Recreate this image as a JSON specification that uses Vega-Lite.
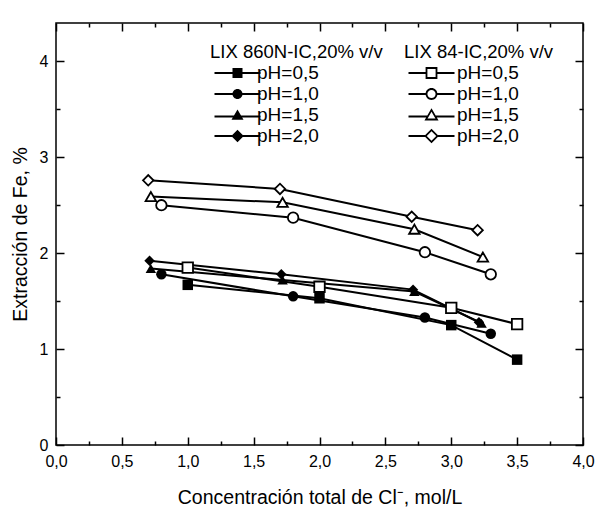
{
  "$schema": "https://vega.github.io/schema/vega-lite/v6.json",
  "autosize": {"type": "none"},
  "width": 527,
  "height": 422,
  "padding": {"left": 56, "top": 23, "right": 15, "bottom": 65},
  "background": "white",
  "config": {
    "font": "Liberation Sans",
    "view": {"stroke": "black", "strokeWidth": 1.5},
    "axis": {
      "domain": false, "grid": false, "tickColor": "black", "tickWidth": 1.5,
      "labelColor": "black", "labelFontSize": 16, "labelFlush": false, "labelOverlap": false,
      "titleColor": "black", "titleFontSize": 19.5, "titleFontWeight": "normal"
    },
    "legend": {
      "labelFontSize": 19, "titleFontSize": 18.5, "titleFontWeight": "normal",
      "labelColor": "black", "titleColor": "black", "symbolSize": 100,
      "rowPadding": 1, "titlePadding": 2, "orient": "none",
      "symbolOpacity": 1, "symbolStrokeWidth": 0, "symbolFillColor": "black"
    }
  },
  "data": {"values": [
    {"ext": "A", "pH": "pH=0,5", "c": 1.0, "e": 1.67},
    {"ext": "A", "pH": "pH=0,5", "c": 2.0, "e": 1.53},
    {"ext": "A", "pH": "pH=0,5", "c": 3.0, "e": 1.25},
    {"ext": "A", "pH": "pH=0,5", "c": 3.5, "e": 0.89},
    {"ext": "A", "pH": "pH=1,0", "c": 0.8, "e": 1.78},
    {"ext": "A", "pH": "pH=1,0", "c": 1.8, "e": 1.55},
    {"ext": "A", "pH": "pH=1,0", "c": 2.8, "e": 1.33},
    {"ext": "A", "pH": "pH=1,0", "c": 3.3, "e": 1.16},
    {"ext": "A", "pH": "pH=1,5", "c": 0.72, "e": 1.84},
    {"ext": "A", "pH": "pH=1,5", "c": 1.72, "e": 1.72},
    {"ext": "A", "pH": "pH=1,5", "c": 2.72, "e": 1.60},
    {"ext": "A", "pH": "pH=1,5", "c": 3.23, "e": 1.27},
    {"ext": "A", "pH": "pH=2,0", "c": 0.71, "e": 1.92},
    {"ext": "A", "pH": "pH=2,0", "c": 1.71, "e": 1.78},
    {"ext": "A", "pH": "pH=2,0", "c": 2.71, "e": 1.62},
    {"ext": "A", "pH": "pH=2,0", "c": 3.21, "e": 1.28},
    {"ext": "B", "pH": "pH=0,5", "c": 1.0, "e": 1.85},
    {"ext": "B", "pH": "pH=0,5", "c": 2.0, "e": 1.65},
    {"ext": "B", "pH": "pH=0,5", "c": 3.0, "e": 1.43},
    {"ext": "B", "pH": "pH=0,5", "c": 3.5, "e": 1.26},
    {"ext": "B", "pH": "pH=1,0", "c": 0.8, "e": 2.50},
    {"ext": "B", "pH": "pH=1,0", "c": 1.8, "e": 2.37},
    {"ext": "B", "pH": "pH=1,0", "c": 2.8, "e": 2.01},
    {"ext": "B", "pH": "pH=1,0", "c": 3.3, "e": 1.78},
    {"ext": "B", "pH": "pH=1,5", "c": 0.72, "e": 2.59},
    {"ext": "B", "pH": "pH=1,5", "c": 1.72, "e": 2.53},
    {"ext": "B", "pH": "pH=1,5", "c": 2.72, "e": 2.25},
    {"ext": "B", "pH": "pH=1,5", "c": 3.24, "e": 1.96},
    {"ext": "B", "pH": "pH=2,0", "c": 0.7, "e": 2.76},
    {"ext": "B", "pH": "pH=2,0", "c": 1.7, "e": 2.67},
    {"ext": "B", "pH": "pH=2,0", "c": 2.7, "e": 2.38},
    {"ext": "B", "pH": "pH=2,0", "c": 3.2, "e": 2.24}
  ]},
  "resolve": {"scale": {"shape": "independent"}, "axis": {"x": "independent", "y": "independent"}},
  "layer": [
    {
      "mark": {"type": "line", "color": "black", "strokeWidth": 2},
      "encoding": {
        "x": {"field": "c", "type": "quantitative", "scale": {"domain": [0, 4], "nice": false},
          "title": "Concentración total de Cl⁻, mol/L",
          "axis": {"orient": "bottom",
            "values": [0, 0.25, 0.5, 0.75, 1, 1.25, 1.5, 1.75, 2, 2.25, 2.5, 2.75, 3, 3.25, 3.5, 3.75, 4],
            "labelExpr": "(datum.value * 2) % 1 === 0 ? replace(format(datum.value, '.1f'), '.', ',') : ''",
            "tickSize": {"condition": {"test": "(datum.value * 2) % 1 === 0", "value": -8}, "value": -4},
            "labelPadding": 16, "titlePadding": 15}},
        "y": {"field": "e", "type": "quantitative", "scale": {"domain": [0, 4.4], "nice": false},
          "title": "Extracción de Fe, %",
          "axis": {"orient": "left",
            "values": [0, 0.5, 1, 1.5, 2, 2.5, 3, 3.5, 4],
            "labelExpr": "datum.value % 1 === 0 ? '' + datum.value : ''",
            "tickSize": {"condition": {"test": "datum.value % 1 === 0", "value": -8}, "value": -4},
            "labelPadding": 16, "titlePadding": 9}},
        "detail": [{"field": "ext"}, {"field": "pH"}],
        "order": {"field": "c", "type": "quantitative"}
      }
    },
    {
      "transform": [{"filter": "datum.ext === 'A'"}],
      "mark": {"type": "point", "filled": true, "color": "black", "size": 110, "opacity": 1},
      "encoding": {
        "x": {"field": "c", "type": "quantitative",
          "axis": {"orient": "top", "title": null, "labels": false,
            "values": [0, 0.25, 0.5, 0.75, 1, 1.25, 1.5, 1.75, 2, 2.25, 2.5, 2.75, 3, 3.25, 3.5, 3.75, 4],
            "tickSize": {"condition": {"test": "(datum.value * 2) % 1 === 0", "value": -8}, "value": -4}}},
        "y": {"field": "e", "type": "quantitative",
          "axis": {"orient": "right", "title": null, "labels": false,
            "values": [0, 0.5, 1, 1.5, 2, 2.5, 3, 3.5, 4],
            "tickSize": {"condition": {"test": "datum.value % 1 === 0", "value": -8}, "value": -4}}},
        "shape": {"field": "pH", "type": "nominal",
          "scale": {"domain": ["pH=0,5", "pH=1,0", "pH=1,5", "pH=2,0"], "range": ["square", "circle", "triangle-up", "diamond"]},
          "legend": null}
      }
    },
    {
      "transform": [{"filter": "datum.ext === 'B'"}],
      "mark": {"type": "point", "filled": false, "fill": "white", "stroke": "black", "strokeWidth": 1.8, "size": 110, "opacity": 1},
      "encoding": {
        "x": {"field": "c", "type": "quantitative", "axis": null},
        "y": {"field": "e", "type": "quantitative", "axis": null},
        "shape": {"field": "pH", "type": "nominal",
          "scale": {"domain": ["pH=0,5", "pH=1,0", "pH=1,5", "pH=2,0"], "range": ["square", "circle", "triangle-up", "diamond"]},
          "legend": null}
      }
    },
    {
      "transform": [{"filter": "datum.ext === 'A'"}],
      "mark": {"type": "point", "filled": true, "color": "black", "fill": "black", "strokeWidth": 0, "size": 0, "opacity": 1},
      "encoding": {
        "x": {"field": "c", "type": "quantitative", "axis": null},
        "y": {"field": "e", "type": "quantitative", "axis": null},
        "shape": {"field": "pH", "type": "nominal",
          "scale": {"domain": ["pH=0,5", "pH=1,0", "pH=1,5", "pH=2,0"],
            "range": [
              "M-1,-0.18H2.7V0.18H-1Z M4.5,-0.18H8.2V0.18H4.5Z M2.6,-1H4.6V1H2.6Z",
              "M-1,-0.18H2.7V0.18H-1Z M4.5,-0.18H8.2V0.18H4.5Z M2.6,0A1,1 0 1,1 4.6,0A1,1 0 1,1 2.6,0Z",
              "M-1,0.12H2.9V0.48H-1Z M4.3,0.12H8.2V0.48H4.3Z M3.6,-1.1L4.8,0.95H2.4Z",
              "M-1,-0.18H2.5V0.18H-1Z M4.7,-0.18H8.2V0.18H4.7Z M2.35,0L3.6,-1.25L4.85,0L3.6,1.25Z"
            ]},
          "legend": {"title": "LIX 860N-IC,20% v/v", "legendX": 154, "legendY": 20, "labelOffset": 28,
            "symbolFillColor": "black", "symbolStrokeWidth": 0, "symbolSize": 100}}
      }
    },
    {
      "transform": [{"filter": "datum.ext === 'B'"}],
      "mark": {"type": "point", "filled": true, "color": "black", "fill": "black", "strokeWidth": 0, "size": 0, "opacity": 1},
      "encoding": {
        "x": {"field": "c", "type": "quantitative", "axis": null},
        "y": {"field": "e", "type": "quantitative", "axis": null},
        "shape": {"field": "pH", "type": "nominal",
          "scale": {"domain": ["pH=0,5", "pH=1,0", "pH=1,5", "pH=2,0"],
            "range": [
              "M-1,-0.18H2.6V0.18H-1Z M4.6,-0.18H8.2V0.18H4.6Z M2.42,-1.18H4.78V1.18H2.42Z M2.78,-0.82V0.82H4.42V-0.82Z",
              "M-1,-0.18H2.6V0.18H-1Z M4.6,-0.18H8.2V0.18H4.6Z M2.42,0A1.18,1.18 0 1,1 4.78,0A1.18,1.18 0 1,1 2.42,0Z M2.78,0A0.82,0.82 0 1,0 4.42,0A0.82,0.82 0 1,0 2.78,0Z",
              "M-1,0.12H2.75V0.48H-1Z M4.45,0.12H8.2V0.48H4.45Z M3.6,-1.36L5.01,1.08H2.19Z M3.6,-0.64L2.81,0.72H4.39Z",
              "M-1,-0.18H2.3V0.18H-1Z M4.9,-0.18H8.2V0.18H4.9Z M2.15,0L3.6,-1.45L5.05,0L3.6,1.45Z M2.65,0L3.6,0.95L4.55,0L3.6,-0.95Z"
            ]},
          "legend": {"title": "\u00a0\u00a0LIX 84-IC,20% v/v", "legendX": 348, "legendY": 20, "labelOffset": 34,
            "symbolFillColor": "black", "symbolStrokeWidth": 0, "symbolSize": 100}}
      }
    }
  ]
}
